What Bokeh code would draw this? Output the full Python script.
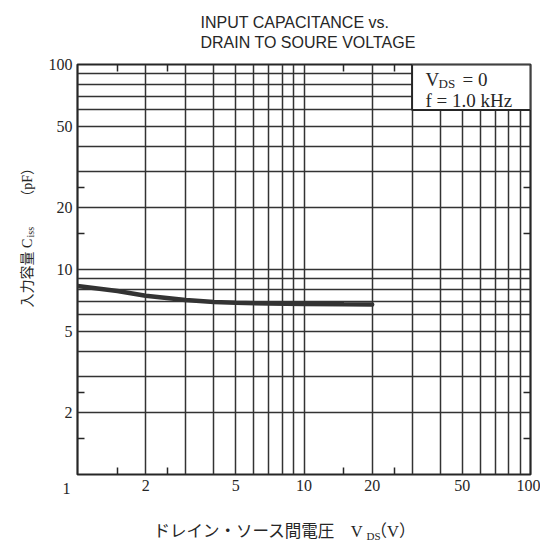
import math
from bokeh.plotting import figure
from bokeh.models import FixedTicker, LogAxis, Label, BoxAnnotation, PrintfTickFormatter
from bokeh.embed import file_html
from bokeh.resources import INLINE

# ---- data ----
VDS = [1, 1.5, 2, 3, 4, 5, 7, 10, 15, 20]
CISS = [8.3, 7.85, 7.45, 7.1, 6.95, 6.88, 6.82, 6.78, 6.76, 6.75]

GRID = [2, 3, 4, 5, 6, 7, 8, 9, 10, 20, 30, 40, 50, 60, 70, 80, 90]
LABEL_TICKS = [2, 5, 10, 20, 50, 100]
MINOR_TICKS = [1.5, 2.5, 15, 25]

TITLE_1 = "INPUT CAPACITANCE vs."
TITLE_2 = "DRAIN TO SOURE VOLTAGE"
XLABEL = "ドレイン・ソース間電圧\u3000V\u3000（V）"
XLABEL_SUB = "DS"
YLABEL = "入力容量 C\u3000\u3000\u3000（pF）"
YLABEL_SUB = "iss"
COND_BOX = dict(left=30, right=100, bottom=60, top=100)

INK = "#262626"
SERIF = "Liberation Serif"
MIXED = "Liberation Serif, Noto Sans CJK JP"
SANS = "Liberation Sans"

p = figure(width=540, height=544, x_axis_type="log", y_axis_type="log",
           x_range=(1, 100), y_range=(1, 100),
           output_backend="svg", toolbar_location=None,
           min_border_left=77, min_border_right=10,
           min_border_top=64, min_border_bottom=70)
p.background_fill_color = "white"
p.border_fill_color = "white"
p.outline_line_color = INK
p.outline_line_width = 2.2

# grid
for g in (p.xgrid, p.ygrid):
    g.ticker = FixedTicker(ticks=GRID)
    g.grid_line_color = "#333333"
    g.grid_line_width = 1.5
    g.grid_line_alpha = 1.0

def style_axis(ax, labels=True):
    ax.ticker = FixedTicker(ticks=LABEL_TICKS if labels else [], minor_ticks=MINOR_TICKS)
    ax.formatter = PrintfTickFormatter(format="%d")
    ax.axis_line_color = None
    ax.major_tick_in = 0
    ax.major_tick_out = 0
    ax.minor_tick_in = 7
    ax.minor_tick_out = 0
    ax.minor_tick_line_color = INK
    ax.minor_tick_line_width = 1.5
    ax.major_label_text_font = SERIF
    ax.major_label_text_font_size = "16px"
    ax.major_label_text_color = INK
    ax.major_label_standoff = 5 if labels else 0

style_axis(p.xaxis[0])
style_axis(p.yaxis[0])

top_ax = LogAxis()
right_ax = LogAxis()
style_axis(top_ax, labels=False)
style_axis(right_ax, labels=False)
p.add_layout(top_ax, "above")
p.add_layout(right_ax, "right")

# curve
p.line(VDS, CISS, line_color="#333333", line_width=4.5, line_cap="round")

# condition box
p.add_layout(BoxAnnotation(**COND_BOX, fill_color="white", fill_alpha=1.0,
                           line_color=INK, line_width=2, line_alpha=1.0))

def lab(text, x, y, font, size, side="center", angle=0.0, align="left", baseline="alphabetic"):
    p.add_layout(Label(x=x, y=y, x_units="canvas", y_units="canvas", text=text,
                       text_font=font, text_font_size=size, text_color=INK,
                       angle=angle, text_align=align, text_baseline=baseline), side)

# condition text (inside the frame)
lab("V", 425, 79, SERIF, "19px")
lab("DS", 438, 83, SERIF, "13px")
lab("= 0", 462, 79, SERIF, "19px")
lab("f = 1.0 kHz", 425, 100, SERIF, "19px")

# title (side panel so it is not clipped)
lab(TITLE_1, 200, 22, SANS, "16px", side="above")
lab(TITLE_2, 200, 42, SANS, "16px", side="above")
# shared corner "1"
lab("1", 66, 488, SERIF, "16px", side="above", align="center", baseline="middle")

# x label
lab(XLABEL, 153, 531, MIXED, "16.5px", side="below")
lab(XLABEL_SUB, 366, 535, SERIF, "11px", side="below")

# y label (rotated)
A = math.pi / 2
lab(YLABEL, 27, 307, MIXED, "14px", side="left", angle=A)
lab(YLABEL_SUB, 30, 237, SERIF, "10px", side="left", angle=A)

open("out.html", "w").write(file_html(p, INLINE))
